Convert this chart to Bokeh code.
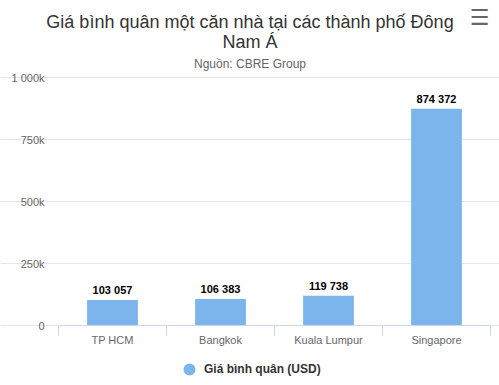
from bokeh.plotting import figure
from bokeh.models import (Range1d, FixedTicker, ColumnDataSource, Label, Legend, LegendItem)
from bokeh.core.properties import value
from bokeh.embed import file_html
from bokeh.resources import INLINE

categories = ["TP HCM", "Bangkok", "Kuala Lumpur", "Singapore"]
prices = [103057, 106383, 119738, 874372]
y_ticks = [0, 250000, 500000, 750000, 1000000]
y_tick_labels = ["0", "250k", "500k", "750k", "1 000k"]
series_name = "Giá bình quân (USD)"
title_lines = ["Giá bình quân một căn nhà tại các thành phố Đông", "Nam Á"]
subtitle = "Nguồn: CBRE Group"

FONT = "Liberation Sans"
W, H = 499, 385  # the frame spans the whole canvas
BASE = 325       # canvas row of the value 0
PX_PER_M = 248   # pixels per 1 000 000
LEFT, RIGHT = 58, 490  # canvas columns of the category axis ends

n = len(categories)
xs = [i + 0.5 for i in range(n)]
labels = [f"{v:,}".replace(",", " ") for v in prices]
src = ColumnDataSource(dict(x=xs, top=prices, label=labels))

band = (RIGHT - LEFT) / n
x_start = -LEFT / band
x_end = n + (W - RIGHT) / band
y_start = -1e6 * (H - BASE) / PX_PER_M
y_end = 1e6 * BASE / PX_PER_M

p = figure(width=W, height=H, output_backend="svg", toolbar_location=None,
           x_range=Range1d(x_start, x_end), y_range=Range1d(y_start, y_end),
           title=None, min_border=0)
p.outline_line_color = None
p.background_fill_color = "white"
p.border_fill_color = "white"

p.vbar(x="x", top="top", width=0.47, bottom=0, source=src,
       fill_color="#7cb5ec", line_color=None)
p.text(x="x", y="top", text="label", source=src, text_align="center",
       text_baseline="middle", y_offset=-10, text_font=value(FONT),
       text_font_size="11px", text_font_style="bold", text_color="#000000")

# x axis drawn at value 0
xa = p.xaxis[0]
xa.fixed_location = 0
xa.bounds = (0, n)
xa.ticker = FixedTicker(ticks=xs, minor_ticks=list(range(n + 1)))
xa.major_label_overrides = {x: c for x, c in zip(xs, categories)}
xa.major_tick_line_color = None
xa.major_tick_out = 0
xa.major_tick_in = 0
xa.minor_tick_line_color = "#ccd6eb"
xa.minor_tick_out = 10
xa.minor_tick_in = 0
xa.axis_line_color = "#ccd6eb"
xa.major_label_standoff = -2
xa.major_label_text_font = FONT
xa.major_label_text_font_size = "11px"
xa.major_label_text_color = "#666666"
p.xgrid.grid_line_color = None

# y axis drawn at the left end of the category axis
ya = p.yaxis[0]
ya.fixed_location = 0
ya.ticker = FixedTicker(ticks=y_ticks)
ya.major_label_overrides = {t: l for t, l in zip(y_ticks, y_tick_labels)}
ya.axis_line_color = None
ya.major_tick_line_color = None
ya.minor_tick_line_color = None
ya.major_tick_out = 0
ya.major_tick_in = 0
ya.major_label_standoff = 14
ya.major_label_text_font = FONT
ya.major_label_text_font_size = "11px"
ya.major_label_text_color = "#666666"
p.ygrid.grid_line_color = "#e6e6e6"
p.ygrid.ticker = FixedTicker(ticks=y_ticks)
p.ygrid.bounds = (0, n)

# titles (screen units from the canvas bottom-left)
for txt, base in zip(title_lines, [21, 41]):
    p.add_layout(Label(x=W / 2, y=H - base, x_units="screen", y_units="screen",
                       text=txt, text_align="center", text_baseline="alphabetic",
                       text_font=FONT, text_font_size="18px", text_color="#333333"))
p.add_layout(Label(x=W / 2, y=H - 63, x_units="screen", y_units="screen",
                   text=subtitle, text_align="center", text_baseline="alphabetic",
                   text_font=FONT, text_font_size="12px", text_color="#666666"))
p.add_layout(Label(x=479, y=H - 17, x_units="screen", y_units="screen",
                   text="☰", text_align="center", text_baseline="middle",
                   text_font="DejaVu Sans", text_font_size="22px",
                   text_font_style="bold", text_color="#666666"))

# legend (the scatter only supplies the circle symbol)
dummy = p.scatter(x=[xs[0]], y=[float("nan")], size=12, marker="circle",
                  fill_color="#7cb5ec", line_color=None)
leg = Legend(items=[LegendItem(label=series_name, renderers=[dummy])],
             location=(174, H - 384), orientation="horizontal",
             padding=0, margin=0, spacing=0,
             glyph_width=30, glyph_height=30, label_height=30, label_standoff=0,
             border_line_color=None, background_fill_alpha=0,
             label_text_font=FONT, label_text_font_size="12px",
             label_text_font_style="bold", label_text_color="#333333")
p.add_layout(leg, "center")

open("out.html", "w").write(file_html(p, INLINE))
